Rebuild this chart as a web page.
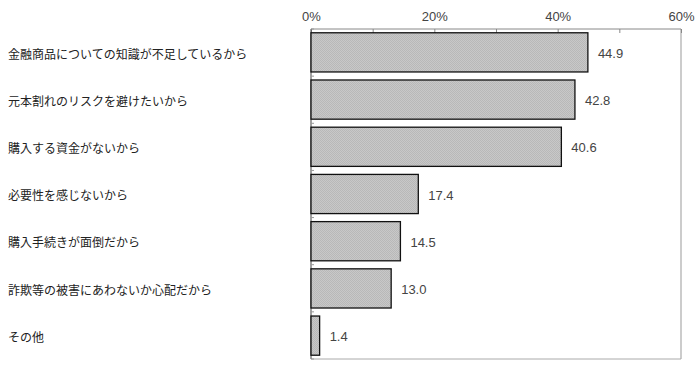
<!DOCTYPE html>
<html>
<head>
<meta charset="utf-8">
<script src="https://cdn.jsdelivr.net/npm/d3@7"></script>
<style>
	body { margin: 0; background: #fff; }
	text { font-family: 'Noto Sans CJK JP', 'Noto Sans', sans-serif; }
	.num { font-family: 'Liberation Sans', Arial, sans-serif; }
</style>
</head>
<body>
<div id="chart"></div>
<script>
const categories = [
	'金融商品についての知識が不足しているから',
	'元本割れのリスクを避けたいから',
	'購入する資金がないから',
	'必要性を感じないから',
	'購入手続きが面倒だから',
	'詐欺等の被害にあわないか心配だから',
	'その他',
];
const values = [44.9, 42.8, 40.6, 17.4, 14.5, 13.0, 1.4];
const tickValues = [0, 10, 20, 30, 40, 50, 60];
const tickLabels = ['0%', '', '20%', '', '40%', '', '60%'];

const width = 700,
	height = 367;
const margin = { top: 29, right: 19, bottom: 8, left: 311 };

const svg = d3
	.select('#chart')
	.append('svg')
	.attr('width', width)
	.attr('height', height);

const defs = svg.append('defs');
const pat = defs
	.append('pattern')
	.attr('id', 'dots')
	.attr('width', 2)
	.attr('height', 2)
	.attr('patternUnits', 'userSpaceOnUse');
pat.append('rect').attr('width', 2).attr('height', 2).attr('fill', '#c8c8c8');
pat.append('rect').attr('width', 1).attr('height', 1).attr('fill', '#b8b8b8');
pat.append('rect').attr('x', 1).attr('y', 1).attr('width', 1).attr('height', 1).attr('fill', '#b8b8b8');

const x = d3
	.scaleLinear()
	.domain([0, 60])
	.range([margin.left, width - margin.right]);

const y = d3
	.scaleBand()
	.domain(categories)
	.range([margin.top, height - margin.bottom])
	.paddingInner(0.17)
	.paddingOuter(0.08);

// right frame and bottom line
svg
	.append('line')
	.attr('x1', x(60))
	.attr('x2', x(60))
	.attr('y1', margin.top)
	.attr('y2', height - margin.bottom)
	.attr('stroke', '#999')
	.attr('stroke-width', 1);
svg
	.append('line')
	.attr('x1', x(0))
	.attr('x2', x(60))
	.attr('y1', height - margin.bottom)
	.attr('y2', height - margin.bottom)
	.attr('stroke', '#aaa')
	.attr('stroke-width', 1);

// top axis
const xAxis = d3
	.axisTop(x)
	.tickValues(tickValues)
	.tickFormat((d, i) => tickLabels[i])
	.tickSize(4)
	.tickPadding(6);

const xAxisElem = svg
	.append('g')
	.attr('transform', 'translate(0,' + margin.top + ')')
	.call(xAxis);
xAxisElem.select('.domain').attr('stroke', '#888').attr('d', 'M' + x(0) + ',0H' + x(60));
xAxisElem.selectAll('.tick line').attr('stroke', '#888').attr('transform', 'translate(0,4)');
xAxisElem
	.selectAll('.tick text')
	.attr('class', 'num')
	.attr('font-size', 13)
	.attr('fill', '#444')
	.attr('y', -8);

// left axis with ticks between categories
svg
	.append('line')
	.attr('x1', x(0))
	.attr('x2', x(0))
	.attr('y1', margin.top)
	.attr('y2', height - margin.bottom)
	.attr('stroke', '#444');
const step = (height - margin.bottom - margin.top) / categories.length;
svg
	.append('g')
	.selectAll('line')
	.data(d3.range(categories.length + 1))
	.enter()
	.append('line')
	.attr('x1', x(0))
	.attr('x2', x(0) + 3)
	.attr('y1', i => margin.top + i * step)
	.attr('y2', i => margin.top + i * step)
	.attr('stroke', '#999');

// category labels
svg
	.append('g')
	.selectAll('text')
	.data(categories)
	.enter()
	.append('text')
	.attr('x', 8)
	.attr('y', d => y(d) + y.bandwidth() / 2 + 2)
	.attr('dy', '0.35em')
	.attr('font-size', 12)
	.attr('fill', '#222')
	.text(d => d);

// bars
svg
	.append('g')
	.selectAll('rect')
	.data(values)
	.enter()
	.append('rect')
	.attr('x', x(0))
	.attr('y', (d, i) => y(categories[i]))
	.attr('width', d => x(d) - x(0))
	.attr('height', y.bandwidth())
	.attr('fill', 'url(#dots)')
	.attr('stroke', '#111')
	.attr('stroke-width', 1.3);

// value labels
svg
	.append('g')
	.selectAll('text')
	.data(values)
	.enter()
	.append('text')
	.attr('class', 'num')
	.attr('x', d => x(d) + 10)
	.attr('y', (d, i) => y(categories[i]) + y.bandwidth() / 2 + 1)
	.attr('dy', '0.35em')
	.attr('font-size', 13)
	.attr('fill', '#444')
	.text(d => d.toFixed(1));
</script>
</body>
</html>
